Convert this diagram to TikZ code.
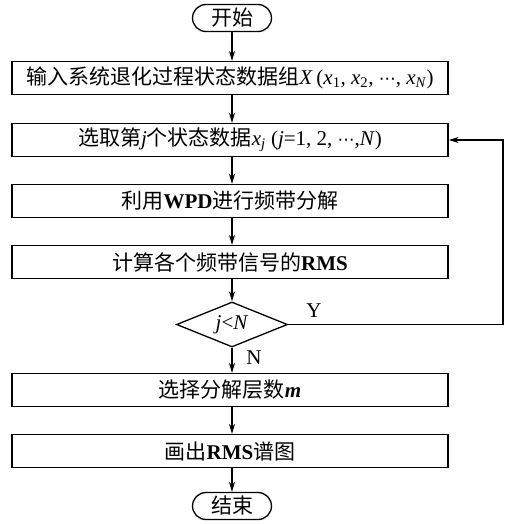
\documentclass[tikz,border=0pt]{standalone}
\usepackage{fontspec}
\setmainfont{Liberation Serif}
\newfontfamily\cjk{Noto Sans CJK SC}
\newfontfamily\symf{DejaVu Sans}
\usetikzlibrary{arrows.meta,shapes.geometric}
\newcommand\zh[1]{{\cjk #1}}
\newcommand\vi[1]{\textit{#1}}
\newcommand\dts{{\symf\fontsize{17}{20}\selectfont ⋯}}
\begin{document}
\begin{tikzpicture}[x=1pt,y=-1pt,
  every node/.style={font=\fontsize{21}{25}\selectfont, inner sep=0pt},
  term/.style={draw, line width=1.3pt, rounded corners=13.5pt, minimum width=79pt, minimum height=27pt},
  proc/.style={draw, line width=1.3pt, minimum width=436pt, minimum height=33pt},
  dec/.style={draw, line width=1.3pt, diamond, aspect=2.47, minimum width=111pt, minimum height=45pt},
  flow/.style={line width=1.3pt, -{Stealth[length=10pt,width=6pt]}},
  lbl/.style={font=\fontsize{21}{25}\selectfont}
]
\useasboundingbox (0,0) rectangle (515,524);
\node[term] (start) at (232,18) {\zh{开始}};
\node[proc] (b1) at (230,78) {\zh{输入系统退化过程状态数据组}\vi{X}\,(\vi{x}\textsubscript{1}, \vi{x}\textsubscript{2}, \dts, \vi{x}\textsubscript{\vi{N}})};
\node[proc] (b2) at (230,140) {\zh{选取第}\vi{j}\zh{个状态数据}\vi{x}\textsubscript{\vi{j}} (\vi{j}=1, 2, \dts,\vi{N})};
\node[proc] (b3) at (230,201) {\zh{利用}\textbf{WPD}\zh{进行频带分解}};
\node[proc] (b4) at (230,262) {\zh{计算各个频带信号的}\textbf{RMS}};
\node[dec] (d) at (232,324.5) {\vi{j}<\vi{N}};
\node[proc] (b5) at (230,390) {\zh{选择分解层数}\textbf{\textit{m}}};
\node[proc] (b6) at (230,451) {\zh{画出}\textbf{RMS}\zh{谱图}};
\node[term] (end) at (232,506) {\zh{结束}};
\coordinate (rc) at (503,324.5);
\draw[flow] (start.south) -- (start.south |- b1.north);
\draw[flow] (start.south |- b1.south) -- (start.south |- b2.north);
\draw[flow] (start.south |- b2.south) -- (start.south |- b3.north);
\draw[flow] (start.south |- b3.south) -- (start.south |- b4.north);
\draw[flow] (start.south |- b4.south) -- (d.north);
\draw[flow] (d.south) -- (d.south |- b5.north);
\draw[flow] (d.south |- b5.south) -- (d.south |- b6.north);
\draw[flow] (d.south |- b6.south) -- (end.north);
\draw[flow] (d.east) -- (rc) |- (b2.east);
\node[lbl] (ylab) at (314,311) {Y};
\node[lbl] (nlab) at (254,358) {N};
\end{tikzpicture}
\end{document}
